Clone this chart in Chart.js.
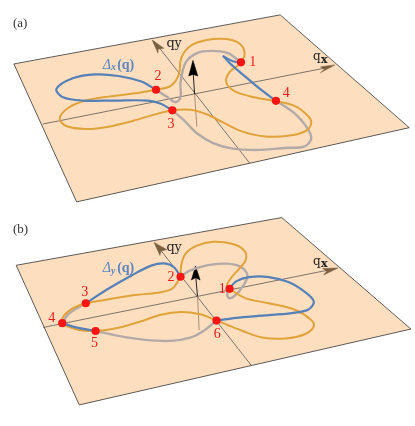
<!DOCTYPE html>
<html>
<head>
<meta charset="utf-8">
<title>Delta curves</title>
<style>
  html, body { margin: 0; padding: 0; background: #fff; }
  #wrap { width: 415px; height: 426px; }
</style>
<script src="https://cdn.jsdelivr.net/npm/chart.js@4"></script>
</head>
<body>
<div id="wrap"><canvas id="myChart" width="415" height="426"></canvas></div>
<script>
// all values, in units of 1/3 px
// panel (a)
const planeA = [[30,183],[845,33],[1240,378],[222,605],[30,183]];
const qxAxisA = [[118,367],[1000,192]];
const qyAxisA = [[752,487],[458,112]];
const qxHeadA = [[1012,186],[968,192],[980,199],[968,210],[1012,186]];
const qyHeadA = [[453,110],[471,150],[471,138],[489,135],[453,110]];
const stemLowA = [[590,375],[583,275]];
const stemHighA = [[583,275],[578,200]];
const headA = [[578,172],[565,220],[578,215],[593,220],[578,172]];
const orangeA = [[465,262],[510,250],[535,215],[542,165],[570,128],[620,110],[680,107],[722,122],[736,152],[722,182],[690,208],[680,240],[708,268],[770,286],[832,297],[890,312],[928,340],[940,362],[926,386],[880,401],[800,405],[730,390],[670,362],[620,337],[570,323],[515,325],[460,338],[395,357],[320,375],[250,382],[190,373],[170,350],[197,317],[250,295],[320,283],[400,273],[465,262]];
const blueA1 = [[465,262],[420,237],[350,220],[280,215],[210,227],[160,260],[180,285],[240,295],[340,295],[440,295],[480,305],[515,325]];
const blueA2 = [[832,296],[790,265],[730,215],[690,180],[672,160]];
const blueA3 = [[672,160],[700,175],[725,178]];
const grayA1 = [[465,262],[500,285],[525,300],[540,285],[540,240],[555,180],[590,150],[635,143],[685,150],[725,178]];
const grayA2 = [[515,325],[550,355],[590,395],[640,425],[700,442],[780,446],[860,440],[920,435],[940,410],[925,375],[890,335],[832,295]];
const dotsA = [[725,178],[465,262],[515,325],[832,296]];

// panel (b), y measured from the top of the lower half
const planeB = [[37,160],[850,14],[1245,355],[230,587],[37,160]];
const qxAxisB = [[120,350],[1005,172]];
const qyAxisB = [[758,468],[462,92]];
const qxHeadB = [[1022,168],[975,170],[987,178],[978,190],[1022,168]];
const qyHeadB = [[459,90],[477,130],[480,117],[498,112],[459,90]];
const stemLowB = [[597,358],[592,255]];
const stemHighB = [[592,255],[586,190]];
const headB = [[586,162],[573,205],[586,198],[600,205],[586,162]];
const orangeB = [[540,195],[542,160],[555,125],[590,100],[640,88],[700,95],[735,115],[740,142],[720,170],[695,198],[682,222],[690,232],[740,261],[810,276],[890,296],[938,326],[948,346],[922,370],[860,384],[790,381],[730,361],[680,341],[650,329],[600,310],[540,303],[480,311],[420,331],[350,351],[280,361],[225,357],[178,337],[183,314],[212,290],[250,276],[320,264],[400,251],[470,244],[515,231],[540,195]];
const blueB1 = [[540,195],[520,166],[490,154],[450,161],[390,191],[320,231],[250,276]];
const blueB2 = [[178,337],[220,350],[280,361]];
const blueB3 = [[690,231],[710,209],[750,196],[810,196],[870,211],[920,241],[948,271],[930,296],[880,306],[790,314],[710,321],[650,329]];
const grayB1 = [[540,195],[565,178],[620,160],[680,155],[725,165],[745,191],[730,225],[705,254],[688,260],[683,243],[690,232]];
const grayB2 = [[250,276],[215,296],[195,311],[178,337]];
const grayB3 = [[280,361],[350,376],[430,388],[510,391],[570,381],[610,361],[650,329]];
const dotsB = [[690,232],[540,195],[250,276],[178,337],[280,361],[650,329]];

// labels: text, x, baseline y, colour, font
const serif = '"Liberation Serif"';
const labels = [
  ['(a)', 27, 71, '#333', '13px ' + serif],
  ['1', 750, 188, '#f01818', '14px ' + serif],
  ['2', 460, 232, '#f01818', '14px ' + serif],
  ['3', 500, 380, '#f01818', '14px ' + serif],
  ['4', 853, 285, '#f01818', '14px ' + serif],
  ['q', 945, 172, '#222', '12px "DejaVu Serif"'],
  ['x', 970, 180, '#222', 'bold 11px "DejaVu Serif"'],
  ['q', 497, 130, '#222', '13px "DejaVu Serif"'],
  ['y', 522, 130, '#222', '12px "DejaVu Serif"'],
  ['Δ', 302, 198, '#5b86c0', 'italic 14px ' + serif],
  ['x', 327, 203, '#5b86c0', 'italic bold 10px ' + serif],
  ['(q)', 346, 198, '#5b86c0', 'bold 14px ' + serif],
  ['(b)', 27, 700, '#333', '13px ' + serif],
  ['1', 657, 885, '#f01818', '14px ' + serif],
  ['2', 500, 847, '#f01818', '14px ' + serif],
  ['3', 236, 892, '#f01818', '14px ' + serif],
  ['4', 135, 972, '#f01818', '14px ' + serif],
  ['5', 266, 1050, '#f01818', '14px ' + serif],
  ['6', 642, 1020, '#f01818', '14px ' + serif],
  ['q', 945, 797, '#222', '12px "DejaVu Serif"'],
  ['x', 970, 805, '#222', 'bold 11px "DejaVu Serif"'],
  ['q', 497, 755, '#222', '13px "DejaVu Serif"'],
  ['y', 522, 755, '#222', '12px "DejaVu Serif"'],
  ['Δ', 302, 820, '#5b86c0', 'italic 14px ' + serif],
  ['y', 327, 825, '#5b86c0', 'italic bold 10px ' + serif],
  ['(q)', 346, 820, '#5b86c0', 'bold 14px ' + serif]
];

const orange = '#e0a33a';
const blue = '#5680b8';
const gray = '#b3a9a6';
const brown = '#7a6040';
const plane = '#fddfc0';
const red = '#fa1414';
const lowerOffset = 639;

const toXY = (pts, dy) => pts.map(p => ({ x: p[0], y: p[1] + dy }));

function shape(pts, dy, color) {
  return { data: toXY(pts, dy), showLine: true, tension: 0, pointRadius: 0,
           borderColor: '#333', borderWidth: 0.8, backgroundColor: color, fill: 'shape' };
}
function head(pts, dy, color) {
  return { data: toXY(pts, dy), showLine: true, tension: 0, pointRadius: 0,
           borderColor: color, borderWidth: 0.5, backgroundColor: color, fill: 'shape' };
}
function thin(pts, dy, color, w) {
  return { data: toXY(pts, dy), showLine: true, tension: 0, pointRadius: 0,
           borderColor: color, borderWidth: w, fill: false };
}
function curve(pts, dy, color, w) {
  return { data: toXY(pts, dy), showLine: true, tension: 0.33, pointRadius: 0,
           borderColor: color, borderWidth: w, fill: false, borderCapStyle: 'round' };
}
function dots(pts, dy) {
  return { data: toXY(pts, dy), showLine: false, pointRadius: 4.1, pointBorderWidth: 0,
           pointBackgroundColor: red };
}

function panel(dy, d) {
  return [
    shape(d.plane, dy, plane),
    thin(d.qx, dy, '#444', 0.7), thin(d.qy, dy, '#444', 0.7),
    head(d.qxHead, dy, brown), head(d.qyHead, dy, brown),
    thin(d.low, dy, '#a89078', 1), thin(d.high, dy, '#222', 1),
    head(d.arrow, dy, '#000'),
    ...d.gray.map(c => curve(c, dy, gray, 2.4)),
    curve(d.orange, dy, orange, 2),
    ...d.blue.map(c => curve(c, dy, blue, 2.2)),
    dots(d.dots, dy)
  ];
}

const datasets = [
  ...panel(0, { plane: planeA, qx: qxAxisA, qy: qyAxisA, qxHead: qxHeadA, qyHead: qyHeadA,
    low: stemLowA, high: stemHighA, arrow: headA, gray: [grayA1, grayA2], orange: orangeA,
    blue: [blueA1, blueA2, blueA3], dots: dotsA }),
  ...panel(lowerOffset, { plane: planeB, qx: qxAxisB, qy: qyAxisB, qxHead: qxHeadB, qyHead: qyHeadB,
    low: stemLowB, high: stemHighB, arrow: headB, gray: [grayB1, grayB2, grayB3], orange: orangeB,
    blue: [blueB1, blueB2, blueB3], dots: dotsB })
];
// chart.js paints the lowest order last, so later entries get lower order
datasets.forEach((d, i) => { d.order = datasets.length - i; d.clip = false; });

const textPlugin = {
  id: 'textLabels',
  afterDatasetsDraw(chart) {
    const c = chart.ctx, sx = chart.scales.x, sy = chart.scales.y;
    c.save();
    c.textBaseline = 'alphabetic';
    labels.forEach(l => {
      c.font = l[4];
      c.fillStyle = l[3];
      c.fillText(l[0], sx.getPixelForValue(l[1]), sy.getPixelForValue(l[2]));
    });
    c.restore();
  }
};

new Chart(document.getElementById('myChart'), {
  type: 'scatter',
  data: { datasets: datasets },
  plugins: [textPlugin],
  options: {
    responsive: false,
    animation: false,
    layout: { padding: 0 },
    scales: {
      x: { type: 'linear', min: 0, max: 1245, display: false },
      y: { type: 'linear', min: 0, max: 1278, reverse: true, display: false }
    },
    plugins: { legend: { display: false }, tooltip: { enabled: false }, title: { display: false } }
  }
});
</script>
</body>
</html>
